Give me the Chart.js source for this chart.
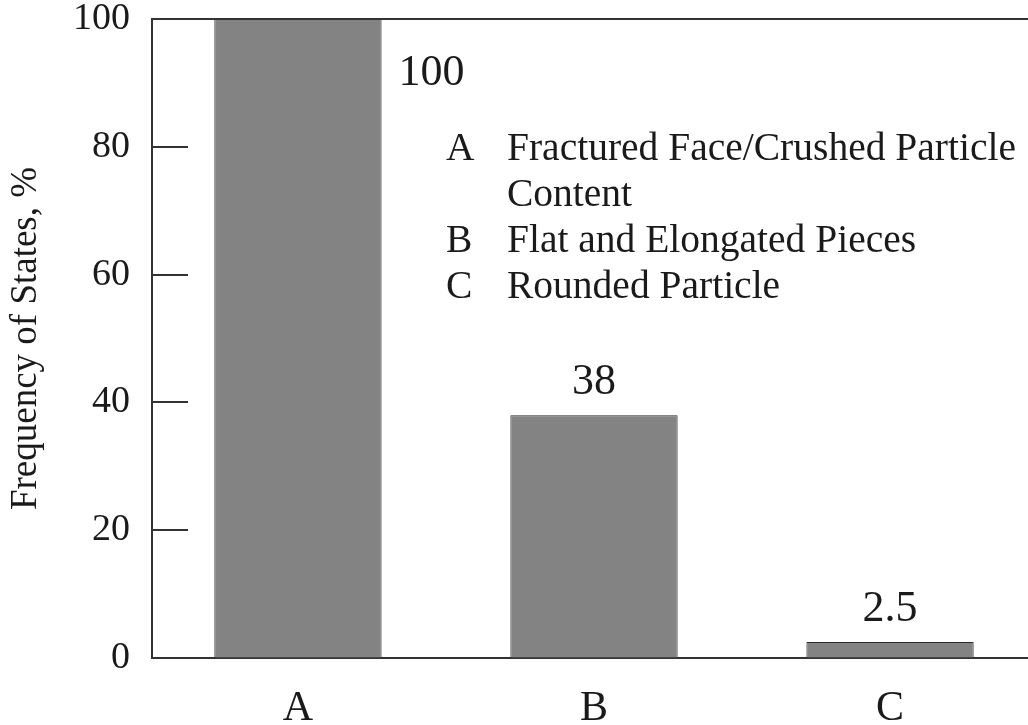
<!DOCTYPE html>
<html lang="en">
<head>
  <meta charset="UTF-8">
  <title>Frequency of States</title>
  <script src="https://cdn.jsdelivr.net/npm/chart.js"></script>
  <style>
    html, body { margin: 0; padding: 0; background: #fff; overflow: hidden; }
    #wrap { width: 1028px; height: 725px; position: relative; }
  </style>
</head>
<body>
  <div id="wrap"><canvas id="grafico"></canvas></div>

  <script>
    // data
    const categorias = ['A', 'B', 'C'];
    const frequencias = [100, 38, 2.5];
    const rotulosValor = ['100', '38', '2.5'];
    const yTicks = [0, 20, 40, 60, 80, 100];
    const legendaLetras = ['A', '', 'B', 'C'];
    const legendaTextos = ['Fractured Face/Crushed Particle', 'Content', 'Flat and Elongated Pieces', 'Rounded Particle'];

    const serif = "'Liberation Serif', 'DejaVu Serif', serif";
    const tinta = '#1a1a1a';

    // extra lines: top frame + short ticks inside the plot
    const molduraPlugin = {
      id: 'moldura',
      afterDraw(chart) {
        const ctx = chart.ctx;
        const a = chart.chartArea;
        const y = chart.scales.y;
        ctx.save();
        ctx.strokeStyle = '#333';
        ctx.lineWidth = 2;
        ctx.beginPath();
        ctx.moveTo(a.left, a.top);
        ctx.lineTo(a.right, a.top);
        yTicks.filter(v => v > 0 && v < 100).forEach(v => {
          const py = Math.round(y.getPixelForValue(v));
          ctx.moveTo(a.left, py);
          ctx.lineTo(a.left + 36, py);
        });
        ctx.stroke();
        ctx.restore();
      }
    };

    // value labels and the A/B/C key
    const textosPlugin = {
      id: 'textos',
      afterDatasetsDraw(chart) {
        const ctx = chart.ctx;
        const meta = chart.getDatasetMeta(0);
        ctx.save();
        ctx.fillStyle = tinta;
        ctx.font = '44px ' + serif;
        ctx.textBaseline = 'bottom';
        meta.data.forEach((bar, i) => {
          if (i === 0) {
            ctx.textAlign = 'left';
            ctx.fillText(rotulosValor[i], bar.x + bar.width / 2 + 17, bar.y + 76);
          } else {
            ctx.textAlign = 'center';
            ctx.fillText(rotulosValor[i], bar.x, bar.y - 11);
          }
        });
        ctx.font = '39.5px ' + serif;
        ctx.textBaseline = 'alphabetic';
        ctx.textAlign = 'left';
        const bases = [160, 206, 252, 298];
        legendaTextos.forEach((t, i) => {
          if (legendaLetras[i]) ctx.fillText(legendaLetras[i], 446, bases[i]);
          ctx.fillText(t, 507, bases[i]);
        });
        ctx.restore();
      }
    };

    const ctx = document.getElementById('grafico').getContext('2d');
    new Chart(ctx, {
      type: 'bar',
      data: {
        datasets: [{
          data: frequencias.map((v, i) => ({ x: i, y: v })),
          backgroundColor: '#838383',
          borderColor: '#2a2a2a',
          borderWidth: 1,
          barPercentage: 0.565,
          categoryPercentage: 1
        }]
      },
      options: {
        responsive: true,
        maintainAspectRatio: false,
        animation: false,
        layout: { padding: 0 },
        plugins: {
          legend: { display: false },
          tooltip: { enabled: false }
        },
        scales: {
          x: {
            type: 'linear',
            offset: false,
            min: -0.493,
            max: 2.466,
            afterBuildTicks: s => { s.ticks = categorias.map((c, i) => ({ value: i })); },
            afterFit: s => { s.height = 67; },
            grid: { display: false, drawTicks: false },
            border: { display: true, color: '#333', width: 2 },
            ticks: {
              callback: v => categorias[v],
              color: tinta,
              font: { family: serif, size: 42 },
              padding: 26,
              maxRotation: 0
            }
          },
          y: {
            min: 0,
            max: 100,
            afterBuildTicks: s => { s.ticks = yTicks.map(v => ({ value: v })); },
            afterFit: s => { s.width = 152; },
            grid: { drawOnChartArea: false, drawTicks: true, tickLength: 22, tickColor: 'rgba(0,0,0,0)' },
            border: { display: true, color: '#333', width: 2 },
            ticks: {
              color: tinta,
              font: { family: serif, size: 38, lineHeight: 1.0 },
              padding: 0
            },
            title: {
              display: true,
              text: 'Frequency of States, %',
              color: tinta,
              font: { family: serif, size: 37 },
              padding: { top: 4, bottom: 0 }
            }
          }
        }
      },
      plugins: [molduraPlugin, textosPlugin]
    });
  </script>
</body>
</html>
